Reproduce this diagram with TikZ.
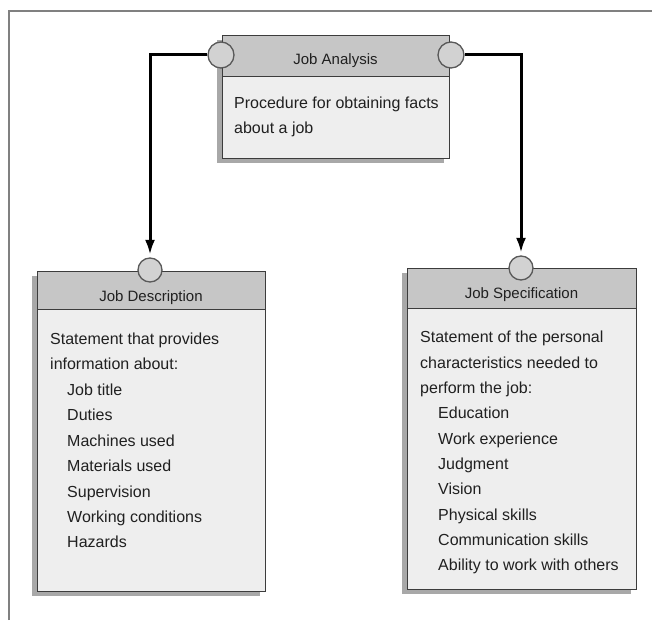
\documentclass[tikz,border=0pt]{standalone}
\usepackage{fontspec}
\setmainfont{Liberation Sans}
\usetikzlibrary{arrows.meta}
\definecolor{hdrfill}{HTML}{C6C6C6}
\definecolor{bodyfill}{HTML}{EEEEEE}
\definecolor{shadowc}{HTML}{A8A8A8}
\definecolor{edgec}{HTML}{3C3C3C}
\definecolor{portfill}{HTML}{D2D2D2}
\definecolor{framec}{HTML}{808080}
\definecolor{textc}{HTML}{202020}
\begin{document}
\begin{tikzpicture}[x=1pt,y=-1pt,
  hdrbox/.style={draw=edgec, line width=1.1pt, fill=hdrfill, rectangle, inner sep=0pt, anchor=north west},
  bodybox/.style={draw=edgec, line width=1.1pt, fill=bodyfill, rectangle, inner sep=0pt, anchor=north west},
  shadowbox/.style={fill=shadowc},
  port/.style={draw=edgec!85, line width=1.3pt, fill=portfill, circle, inner sep=0pt},
  htext/.style={text=textc, font=\fontsize{15}{18}\selectfont, inner sep=0pt, anchor=base},
  btext/.style={text=textc, inner sep=0pt, anchor=base west},
  conn/.style={line width=3pt, black, -{Latex[length=15pt,width=10pt]}, shorten >=2.5pt}
]
\useasboundingbox (0,0) rectangle (652,620);
% frame
\draw[framec, line width=1.4pt] (9,620) -- (9,11) -- (652,11);

% ---------- Job Analysis ----------
\fill[shadowbox] (217,40) rectangle (444,163);
\node[hdrbox, minimum width=227pt, minimum height=41pt] (jah) at (222,35) {};
\node[bodybox, minimum width=227pt, minimum height=82pt] (jab) at (222,76) {};
\node[htext] (jat) at (335.5,65) {Job Analysis};
\node[btext] (jabt) at (234,108.5) {\parbox[t]{210pt}{\fontsize{16}{25.4}\selectfont
Procedure for obtaining facts\\
about a job}};
\node[port, minimum size=26pt] (jal) at (221,55) {};
\node[port, minimum size=26pt] (jar) at (451,55) {};

% ---------- Job Description ----------
\fill[shadowbox] (32,276) rectangle (260,596);
\node[hdrbox, minimum width=228pt, minimum height=38pt] (jdh) at (37,271) {};
\node[bodybox, minimum width=228pt, minimum height=282pt] (jdb) at (37,309) {};
\node[htext] (jdt) at (151,301.5) {Job Description};
\node[btext] (jdbt) at (50,344.3) {\parbox[t]{210pt}{\fontsize{16}{25.46}\selectfont
Statement that provides\\
information about:\\
\hspace*{17pt}Job title\\
\hspace*{17pt}Duties\\
\hspace*{17pt}Machines used\\
\hspace*{17pt}Materials used\\
\hspace*{17pt}Supervision\\
\hspace*{17pt}Working conditions\\
\hspace*{17pt}Hazards}};
\node[port, minimum size=24pt] (jdp) at (150,270) {};

% ---------- Job Specification ----------
\fill[shadowbox] (402,273) rectangle (631,594);
\node[hdrbox, minimum width=229pt, minimum height=40pt] (jsh) at (407,268) {};
\node[bodybox, minimum width=229pt, minimum height=281pt] (jsb) at (407,308) {};
\node[htext] (jst) at (521.5,298.3) {Job Specification};
\node[btext] (jsbt) at (420,342.7) {\parbox[t]{215pt}{\fontsize{16}{25.33}\selectfont
Statement of the personal\\
characteristics needed to\\
perform the job:\\
\hspace*{18pt}Education\\
\hspace*{18pt}Work experience\\
\hspace*{18pt}Judgment\\
\hspace*{18pt}Vision\\
\hspace*{18pt}Physical skills\\
\hspace*{18pt}Communication skills\\
\hspace*{18pt}Ability to work with others}};
\node[port, minimum size=24pt] (jsp) at (521,268) {};

% ---------- connectors ----------
\draw[conn] (jal.west) -| (jdp.north);
\draw[conn] (jar.east) -| (jsp.north);
\end{tikzpicture}
\end{document}
